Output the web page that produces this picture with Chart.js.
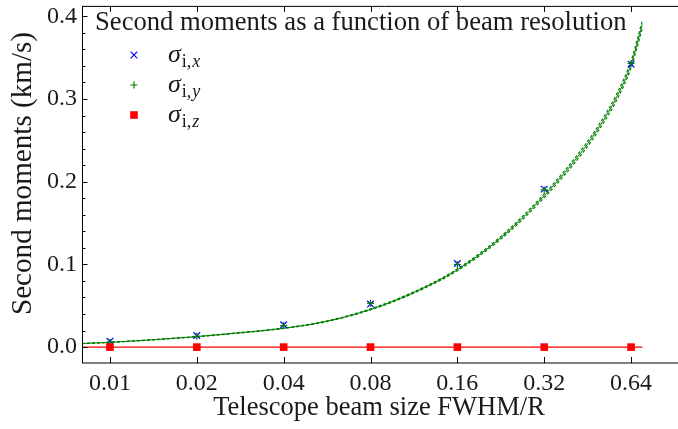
<!DOCTYPE html>
<html>
<head>
<meta charset="utf-8">
<script src="https://cdn.jsdelivr.net/npm/chart.js@4.4.1/dist/chart.umd.min.js"></script>
<style>
    html, body { margin: 0; padding: 0; background: #fff; overflow: hidden; }
    #wrap { width: 700px; height: 429px; }
</style>
</head>
<body>
<div id="wrap"><canvas id="moments" width="700" height="429"></canvas></div>
<script>
// measured points (telescope beam size FWHM/R)
const beamSizes = [0.01, 0.02, 0.04, 0.08, 0.16, 0.32, 0.64];
const sigmaX = [0.007, 0.014, 0.027, 0.052, 0.101, 0.191, 0.342];
const sigmaY = [0.006, 0.013, 0.026, 0.053, 0.100, 0.190, 0.343];
const sigmaZ = [0, 0, 0, 0, 0, 0, 0];

// fitted curve and its band
const fitX = [0.008, 0.01, 0.014, 0.02, 0.028, 0.04, 0.056, 0.08, 0.113, 0.16, 0.226, 0.32, 0.44, 0.5, 0.57, 0.64, 0.70];
const fitY = [0.0043, 0.0058, 0.0088, 0.0127, 0.0172, 0.0228, 0.031, 0.0456, 0.066, 0.0935, 0.132, 0.183, 0.240, 0.268, 0.302, 0.342, 0.390];
const fitLow = [0.0042, 0.0057, 0.0087, 0.0125, 0.0170, 0.0225, 0.0306, 0.0450, 0.0652, 0.0924, 0.1304, 0.1808, 0.2371, 0.2648, 0.2984, 0.3379, 0.3853];
const fitHigh = [0.0044, 0.0059, 0.0089, 0.0129, 0.0174, 0.0231, 0.0314, 0.0462, 0.0668, 0.0946, 0.1336, 0.1852, 0.2429, 0.2712, 0.3056, 0.3461, 0.3947];
const zFitX = [0.008, 0.70];
const zFitY = [0, 0];

// axes
const xTickValues = [0.01, 0.02, 0.04, 0.08, 0.16, 0.32, 0.64];
const xTickLabels = ['0.01', '0.02', '0.04', '0.08', '0.16', '0.32', '0.64'];
const yTickValues = [0, 0.1, 0.2, 0.3, 0.4];
const yMinorTicks = [0.02, 0.04, 0.06, 0.08, 0.12, 0.14, 0.16, 0.18, 0.22, 0.24, 0.26, 0.28, 0.32, 0.34, 0.36, 0.38];

const legendTitle = 'Second moments as a function of beam resolution';
const legendSubs = ['x', 'y', 'z'];
const xTitle = 'Telescope beam size FWHM/R';
const yTitle = 'Second moments (km/s)';

const SERIF = '"Liberation Serif", "DejaVu Serif", serif';
const BLUE = '#0000ff';
const GREEN = '#008000';
const RED = '#ff0000';
const INK = '#1a1a1a';

const pts = (xs, ys) => xs.map((x, i) => ({ x: x, y: ys[i] }));

// font size that makes a string exactly a given width
const fitFont = (ctx, text, width, style) => {
    ctx.font = `${style || ''} 20px ${SERIF}`;
    return 20 * width / ctx.measureText(text).width;
};

const drawMarker = (ctx, kind, x, y) => {
    ctx.save();
    ctx.lineWidth = 1.2;
    if (kind === 'x') {
        ctx.strokeStyle = BLUE;
        ctx.beginPath();
        ctx.moveTo(x - 3.3, y - 3.3); ctx.lineTo(x + 3.3, y + 3.3);
        ctx.moveTo(x - 3.3, y + 3.3); ctx.lineTo(x + 3.3, y - 3.3);
        ctx.stroke();
    } else if (kind === 'y') {
        ctx.strokeStyle = GREEN;
        ctx.beginPath();
        ctx.moveTo(x - 3.5, y); ctx.lineTo(x + 3.5, y);
        ctx.moveTo(x, y - 3.5); ctx.lineTo(x, y + 3.5);
        ctx.stroke();
    } else {
        ctx.fillStyle = RED;
        ctx.fillRect(x - 3.8, y - 3.8, 7.6, 7.6);
    }
    ctx.restore();
};

const decor = {
    id: 'decor',
    afterDraw(chart) {
        const ctx = chart.ctx;
        const area = chart.chartArea;
        const xs = chart.scales.x;
        const ys = chart.scales.y;

        ctx.save();
        // spines
        ctx.strokeStyle = '#000';
        ctx.lineWidth = 1;
        ctx.beginPath();
        ctx.moveTo(area.left + 0.5, area.top);
        ctx.lineTo(area.left + 0.5, area.bottom);
        ctx.moveTo(area.left, area.top + 0.5);
        ctx.lineTo(area.right, area.top + 0.5);
        ctx.moveTo(area.left, area.bottom);
        ctx.lineTo(area.right, area.bottom);
        ctx.stroke();

        // inward ticks
        ctx.beginPath();
        xTickValues.forEach(v => {
            const px = Math.round(xs.getPixelForValue(v)) + 0.5;
            ctx.moveTo(px, area.bottom);
            ctx.lineTo(px, area.bottom - 6);
            ctx.moveTo(px, area.top);
            ctx.lineTo(px, area.top + 6);
        });
        yTickValues.forEach(v => {
            const py = Math.round(ys.getPixelForValue(v)) + 0.5;
            ctx.moveTo(area.left, py);
            ctx.lineTo(area.left + 5.5, py);
        });
        yMinorTicks.forEach(v => {
            const py = Math.round(ys.getPixelForValue(v)) + 0.5;
            ctx.moveTo(area.left, py);
            ctx.lineTo(area.left + 3.5, py);
        });
        ctx.stroke();

        // axis titles
        ctx.fillStyle = INK;
        ctx.textAlign = 'center';
        ctx.textBaseline = 'middle';
        ctx.font = `${fitFont(ctx, xTitle, 332)}px ${SERIF}`;
        ctx.fillText(xTitle, 379, 408);

        ctx.save();
        ctx.translate(23, 173.5);
        ctx.rotate(-Math.PI / 2);
        ctx.font = `${fitFont(ctx, yTitle, 283)}px ${SERIF}`;
        ctx.fillText(yTitle, 0, 0);
        ctx.restore();

        // legend box (inside the axes)
        ctx.textAlign = 'left';
        ctx.textBaseline = 'alphabetic';
        ctx.font = `${fitFont(ctx, legendTitle, 532)}px ${SERIF}`;
        ctx.fillText(legendTitle, 95, 30);

        legendSubs.forEach((sub, i) => {
            const my = 55 + i * 30;
            drawMarker(ctx, sub, 134, my);
            const base = my + 7;
            ctx.font = `italic 26px ${SERIF}`;
            ctx.fillText('σ', 168, base);
            let tx = 168 + ctx.measureText('σ').width + 1;
            ctx.font = `18px ${SERIF}`;
            ctx.fillText('i,', tx, base + 5);
            tx += ctx.measureText('i,').width + 1;
            ctx.font = `italic 18px ${SERIF}`;
            ctx.fillText(sub, tx, base + 5);
        });
        ctx.restore();
    }
};

const fitLine = (data, color, dash, width, order) => ({
    data: data,
    showLine: true,
    borderColor: color,
    borderWidth: width,
    borderDash: dash,
    pointRadius: 0,
    cubicInterpolationMode: 'monotone',
    order: order
});

new Chart(document.getElementById('moments'), {
    type: 'scatter',
    data: {
        datasets: [
            fitLine(pts(fitX, fitLow), GREEN, [3, 2], 1.2, 10),
            fitLine(pts(fitX, fitHigh), GREEN, [3, 2], 1.2, 10),
            fitLine(pts(fitX, fitY), GREEN, [], 1, 9),
            fitLine(pts(zFitX, zFitY), RED, [], 1.3, 8),
            {
                data: pts(beamSizes, sigmaX),
                pointStyle: 'crossRot',
                pointRadius: 4.7,
                borderColor: BLUE,
                borderWidth: 1.2,
                order: 3
            },
            {
                data: pts(beamSizes, sigmaY),
                pointStyle: 'cross',
                pointRadius: 3.5,
                borderColor: GREEN,
                borderWidth: 1.2,
                order: 2
            },
            {
                data: pts(beamSizes, sigmaZ),
                pointStyle: 'rect',
                pointRadius: 5.4,
                backgroundColor: RED,
                borderColor: RED,
                borderWidth: 0,
                order: 1
            }
        ]
    },
    options: {
        responsive: false,
        animation: false,
        devicePixelRatio: 1,
        layout: { padding: { top: 3, right: 13, left: 0, bottom: 0 } },
        plugins: {
            legend: { display: false },
            tooltip: { enabled: false }
        },
        scales: {
            x: {
                type: 'logarithmic',
                min: 0.008,
                max: 1.0,
                grid: { display: false, drawTicks: false },
                border: { display: false },
                afterBuildTicks: s => { s.ticks = xTickValues.map(v => ({ value: v })); },
                afterFit: s => { s.height = 66; s.paddingLeft = 0; s.paddingRight = 0; },
                ticks: {
                    autoSkip: false,
                    maxRotation: 0,
                    padding: 6,
                    color: INK,
                    font: { family: SERIF, size: 24 },
                    callback: (v, i) => xTickLabels[i]
                }
            },
            y: {
                type: 'linear',
                min: -0.0192,
                max: 0.4125,
                grid: { display: false, drawTicks: false },
                border: { display: false },
                afterBuildTicks: s => { s.ticks = yTickValues.map(v => ({ value: v })); },
                afterFit: s => { s.width = 82; s.paddingTop = 0; s.paddingBottom = 0; },
                ticks: {
                    padding: 5,
                    color: INK,
                    font: { family: SERIF, size: 24 },
                    callback: v => v.toFixed(1)
                }
            }
        }
    },
    plugins: [decor]
});
</script>
</body>
</html>
